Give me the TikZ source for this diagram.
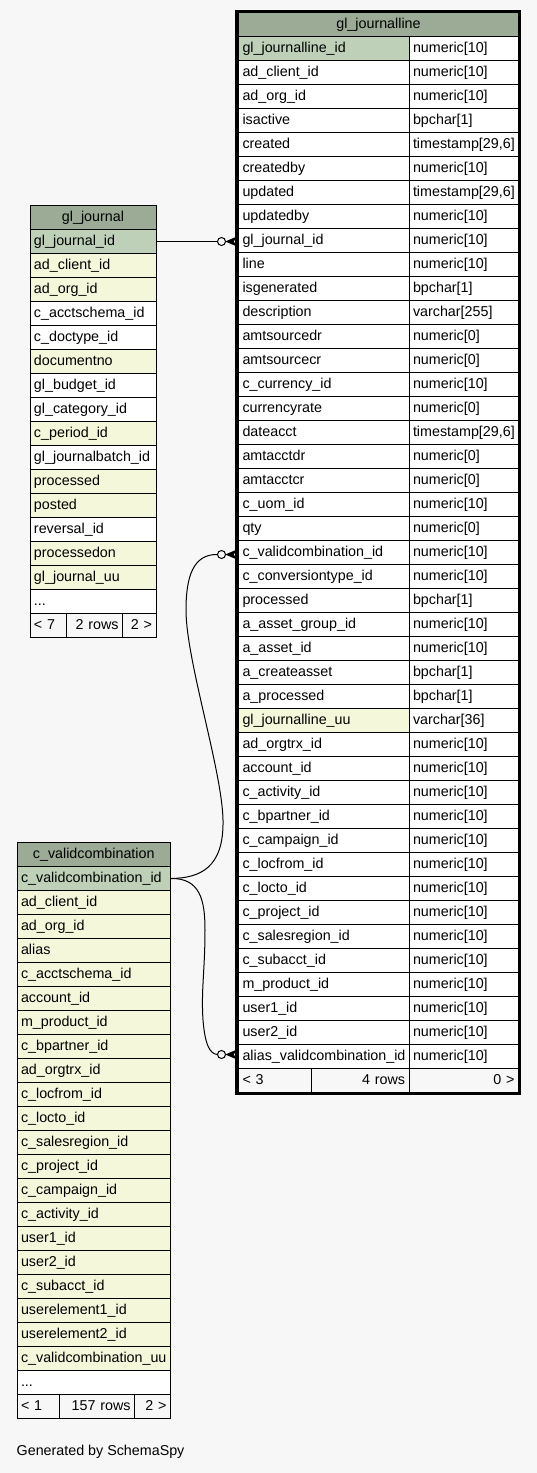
\documentclass[tikz,border=0pt]{standalone}
\usepackage{fontspec}
\setmainfont{Liberation Sans}
\usetikzlibrary{calc}
\definecolor{bgc}{HTML}{F7F7F7}
\definecolor{hdr}{HTML}{9BAB96}
\definecolor{keyc}{HTML}{BED1B8}
\definecolor{idx}{HTML}{F4F7DA}
\newcommand{\mydots}{...}
\newcommand{\crowodot}[3]{%
  \coordinate (#3o) at ($(#1.west)+(-16.5,#2)$);
  \coordinate (#3a) at ($(#1.west)+(-20.5,#2)$);
  \draw[conn] (#3o) circle[radius=4pt];
  \filldraw[conn,fill=black,line join=round] ($(#1.west)+(-2,#2-4)$) -- ($(#1.west)+(-11.5,#2)$) -- ($(#1.west)+(-2,#2+4)$) -- ($(#1.west)+(-5,#2)$) -- cycle;
}
\begin{document}
\begin{tikzpicture}[x=1pt,y=-1pt,
  font=\fontsize{14.3}{16}\selectfont,
  cell/.style={draw=black,line width=1pt,anchor=north west,minimum height=24pt,
    inner xsep=4pt,inner ysep=0pt,text height=10pt,text depth=3pt,align=left},
  hcell/.style={cell,fill=hdr,align=center},
  fcell/.style={cell,fill=bgc},
  conn/.style={draw=black,line width=1pt},
]
\fill[bgc] (0,0) rectangle (537,1473);
\useasboundingbox (0,0) rectangle (537,1473);

% ---------- gl_journalline ----------
\node[hcell,text width=272pt] (jlh) at (238,12) {gl\_journalline};
\foreach \n/\t/\f [count=\i] in {
 gl\_journalline\_id/numeric[10]/keyc,
 ad\_client\_id/numeric[10]/white,
 ad\_org\_id/numeric[10]/white,
 isactive/bpchar[1]/white,
 created/{timestamp[29,6]}/white,
 createdby/numeric[10]/white,
 updated/{timestamp[29,6]}/white,
 updatedby/numeric[10]/white,
 gl\_journal\_id/numeric[10]/white,
 line/numeric[10]/white,
 isgenerated/bpchar[1]/white,
 description/varchar[255]/white,
 amtsourcedr/numeric[0]/white,
 amtsourcecr/numeric[0]/white,
 c\_currency\_id/numeric[10]/white,
 currencyrate/numeric[0]/white,
 dateacct/{timestamp[29,6]}/white,
 amtacctdr/numeric[0]/white,
 amtacctcr/numeric[0]/white,
 c\_uom\_id/numeric[10]/white,
 qty/numeric[0]/white,
 c\_validcombination\_id/numeric[10]/white,
 c\_conversiontype\_id/numeric[10]/white,
 processed/bpchar[1]/white,
 a\_asset\_group\_id/numeric[10]/white,
 a\_asset\_id/numeric[10]/white,
 a\_createasset/bpchar[1]/white,
 a\_processed/bpchar[1]/white,
 gl\_journalline\_uu/varchar[36]/idx,
 ad\_orgtrx\_id/numeric[10]/white,
 account\_id/numeric[10]/white,
 c\_activity\_id/numeric[10]/white,
 c\_bpartner\_id/numeric[10]/white,
 c\_campaign\_id/numeric[10]/white,
 c\_locfrom\_id/numeric[10]/white,
 c\_locto\_id/numeric[10]/white,
 c\_project\_id/numeric[10]/white,
 c\_salesregion\_id/numeric[10]/white,
 c\_subacct\_id/numeric[10]/white,
 m\_product\_id/numeric[10]/white,
 user1\_id/numeric[10]/white,
 user2\_id/numeric[10]/white,
 alias\_validcombination\_id/numeric[10]/white}{
  \node[cell,fill=\f,text width=162.5pt] (jl-\i) at (238,{36+(\i-1)*24}) {\n};
  \node[cell,fill=white,text width=101.5pt] (jlt-\i) at (408.5,{36+(\i-1)*24}) {\t};
}
\node[fcell,text width=65pt] (jlf1) at (238,1068) {< 3};
\node[fcell,text width=89.5pt,align=right] (jlf2) at (311,1068) {4 rows};
\node[fcell,text width=101.5pt,align=right] (jlf3) at (408.5,1068) {0 >};
\draw[line width=3pt] (236.5,11.5) rectangle (519.5,1093);

% ---------- gl_journal ----------
\node[hcell,text width=118pt] (gjh) at (29.5,205) {gl\_journal};
\foreach \n/\f [count=\i] in {
 gl\_journal\_id/keyc, ad\_client\_id/idx, ad\_org\_id/idx, c\_acctschema\_id/white,
 c\_doctype\_id/white, documentno/idx, gl\_budget\_id/white, gl\_category\_id/white,
 c\_period\_id/idx, gl\_journalbatch\_id/white, processed/idx, posted/idx,
 reversal\_id/white, processedon/idx, gl\_journal\_uu/idx, \mydots/white}{
  \node[cell,fill=\f,text width=118pt] (gj-\i) at (29.5,{229+(\i-1)*24}) {\n};
}
\node[fcell,text width=28.5pt] (gjf1) at (29.5,613) {< 7};
\node[fcell,text width=48pt,align=right] (gjf2) at (66,613) {2 rows};
\node[fcell,text width=25.5pt,align=right] (gjf3) at (122,613) {2 >};

% ---------- c_validcombination ----------
\node[hcell,text width=145.5pt] (vch) at (16.5,842) {c\_validcombination};
\foreach \n/\f [count=\i] in {
 c\_validcombination\_id/keyc, ad\_client\_id/idx, ad\_org\_id/idx, alias/idx,
 c\_acctschema\_id/idx, account\_id/idx, m\_product\_id/idx, c\_bpartner\_id/idx,
 ad\_orgtrx\_id/idx, c\_locfrom\_id/idx, c\_locto\_id/idx, c\_salesregion\_id/idx,
 c\_project\_id/idx, c\_campaign\_id/idx, c\_activity\_id/idx, user1\_id/idx,
 user2\_id/idx, c\_subacct\_id/idx, userelement1\_id/idx, userelement2\_id/idx,
 c\_validcombination\_uu/idx, \mydots/white}{
  \node[cell,fill=\f,text width=145.5pt] (vc-\i) at (16.5,{866+(\i-1)*24}) {\n};
}
\node[fcell,text width=34.5pt] (vcf1) at (16.5,1394) {< 1};
\node[fcell,text width=67pt,align=right] (vcf2) at (59,1394) {157 rows};
\node[fcell,text width=28pt,align=right] (vcf3) at (134,1394) {2 >};

% ---------- connectors ----------
\crowodot{jl-9}{1}{e1}
\draw[conn] (gj-1.east) -- (e1a);

\crowodot{jl-22}{2}{e2}
\draw[conn] (vc-1.east) .. controls (200,878) and (224,868) .. (223,820)
  .. controls (222,770) and (186,660) .. (186,610)
  .. controls (186,577) and (193,554) .. (e2a);

\crowodot{jl-43}{-2}{e3}
\draw[conn] (vc-1.east) .. controls (200,878) and (205,900) .. (205,930)
  .. controls (205,970) and (201,990) .. (203,1020)
  .. controls (205,1045) and (210,1054) .. (e3a);

\node[anchor=west,inner sep=0pt] (gen) at (16.5,1452) {Generated by SchemaSpy};
\end{tikzpicture}
\end{document}
